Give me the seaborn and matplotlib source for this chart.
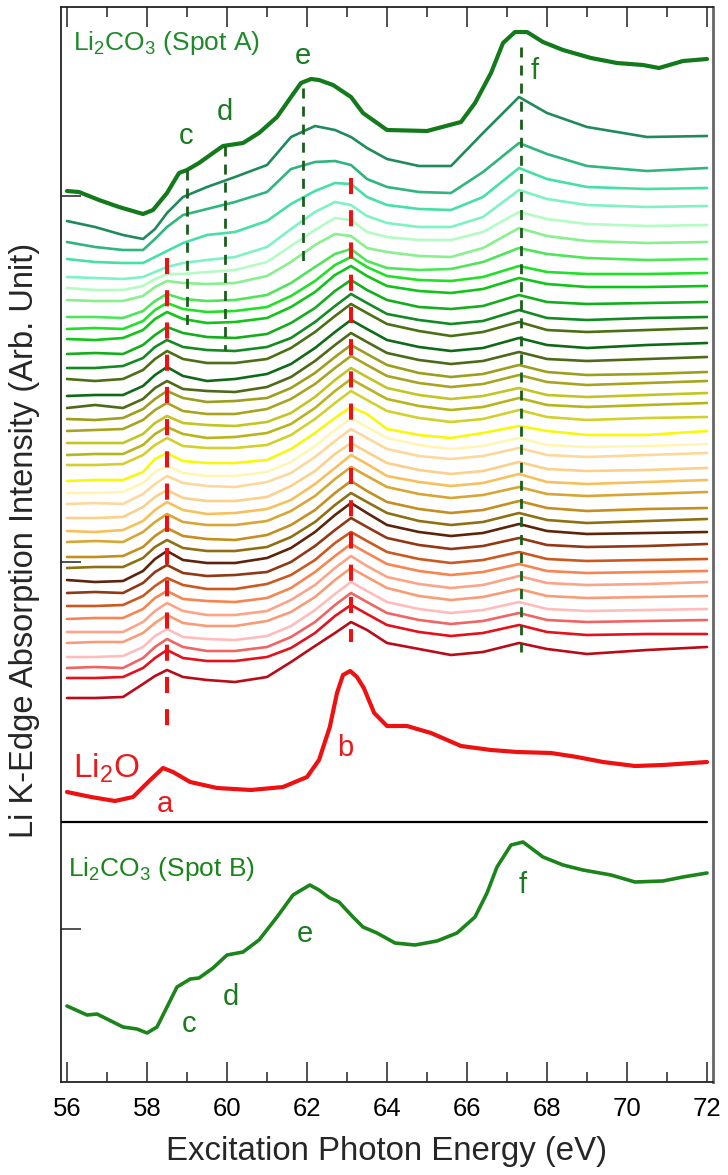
import numpy as np
import pandas as pd
import matplotlib
matplotlib.use("Agg")
import matplotlib.pyplot as plt
import seaborn as sns

# ---------------- data (arbitrary intensity units, 1 unit ~ 1 px) ----------------
# Li2CO3 Spot A (top, thick)
spotA_E = [56.0, 56.3, 56.8, 57.3, 57.9, 58.15, 58.5, 58.8, 59.0, 59.3, 59.65, 59.9, 60.4, 60.8,
           61.25, 61.6, 61.85, 62.1, 62.3, 62.65, 63.1, 63.4, 64.0, 65.0, 65.85, 66.2, 66.6, 66.9,
           67.2, 67.5, 67.9, 68.4, 69.1, 69.75, 70.4, 70.8, 71.4, 72.0]
spotA_I = [891, 890, 882, 875, 868, 872, 889, 909, 912, 919, 929, 936, 939, 949,
           965, 985, 999, 1003, 1002, 997, 985, 969, 952, 951, 960, 979, 1009, 1039,
           1050, 1050, 1040, 1032, 1024, 1019, 1017, 1014, 1021, 1023]

# Li2O reference (thick red)
li2o_E = [56.0, 56.6, 57.2, 57.65, 58.08, 58.4, 58.65, 59.08, 59.75, 60.6, 61.4, 62.0, 62.3, 62.57,
          62.75, 62.9, 63.08, 63.25, 63.42, 63.68, 64.0, 64.5, 65.1, 65.85, 66.6, 67.25, 68.1,
          68.75, 69.4, 70.2, 70.9, 72.0]
li2o_I = [290, 285, 281, 285, 302, 314, 310, 300, 294, 292, 295, 305, 322, 355,
          389, 407, 411, 405, 394, 369, 356, 356, 349, 336, 332, 330, 329,
          325, 320, 316, 317, 320]

# Li2CO3 Spot B (bottom panel)
spotB_E = [56.0, 56.5, 56.75, 57.15, 57.4, 57.75, 58.0, 58.25, 58.75, 59.08, 59.3, 59.65, 60.0,
           60.4, 60.8, 61.25, 61.65, 62.07, 62.3, 62.57, 62.8, 63.15, 63.4, 63.75, 64.2, 64.7,
           65.25, 65.75, 66.2, 66.5, 66.75, 67.1, 67.4, 67.9, 68.4, 68.9, 69.6, 70.2, 70.9, 71.4, 72.0]
spotB_I = [76, 67, 68, 60, 55, 53, 49, 55, 95, 103, 104, 114, 127,
           130, 142, 165, 187, 197, 192, 184, 180, 165, 155, 149, 139, 137,
           141, 149, 165, 189, 215, 237, 240, 225, 217, 212, 207, 200, 201, 205, 209]

# intermediate spectra: common energy grid, vertical offsets, relative spectra
stack_E = [56.0, 56.7, 57.4, 57.9, 58.2, 58.5, 58.9, 59.5, 60.2, 61.0, 61.6, 62.2,
           62.7, 63.1, 63.5, 64.0, 64.8, 65.6, 66.4, 67.3, 68.0, 69.0, 70.5, 72.0]
stack_offset = [861, 840, 823, 805, 794, 782, 765, 753, 743, 728, 714, 703, 686, 674, 663, 651,
                639, 627, 617, 601, 589, 578, 564, 551, 540, 525, 514, 502, 489, 476, 463, 450,
                439, 425, 414, 404, 384]
stack_spectra = [
    [0, -6, -14, -18, -8, 8, 24, 34, 44, 56, 84, 95, 91, 84, 73, 62, 55, 55, 88, 124, 108, 94, 84, 85],
    [0, -5, -8, -8, 3, 15, 27, 33, 40, 50, 73, 80, 81, 77, 63, 55, 50, 49, 70, 99, 88, 76, 71, 74],
    [0, -3, -4, -4, 2, 8, 16, 24, 27, 38, 55, 68, 76, 75, 62, 54, 50, 49, 62, 91, 80, 72, 70, 71],
    [0, -1, -2, 0, 5, 10, 14, 17, 20, 30, 48, 65, 75, 72, 61, 54, 50, 50, 60, 87, 78, 72, 70, 71],
    [0, -2, -2, 2, 9, 14, 14, 16, 18, 26, 42, 58, 70, 68, 56, 51, 48, 48, 56, 76, 69, 64, 62, 63],
    [0, -1, -1, 4, 13, 19, 17, 16, 17, 24, 38, 55, 66, 64, 52, 48, 44, 43, 52, 72, 64, 59, 57, 58],
    [0, 0, -1, 6, 16, 23, 18, 16, 17, 22, 34, 50, 63, 68, 56, 49, 47, 48, 55, 69, 63, 59, 57, 58],
    [0, 1, 0, 8, 19, 26, 20, 17, 18, 22, 33, 48, 64, 72, 62, 53, 49, 48, 52, 63, 57, 55, 55, 56],
    [0, -1, 1, 9, 20, 27, 20, 16, 17, 21, 32, 47, 64, 73, 63, 53, 48, 46, 50, 61, 55, 52, 52, 53],
    [0, 1, 0, 9, 19, 27, 21, 17, 16, 20, 31, 46, 63, 74, 64, 54, 47, 45, 48, 59, 52, 50, 51, 52],
    [0, 0, 2, 10, 21, 28, 21, 18, 17, 21, 30, 46, 62, 74, 65, 54, 48, 44, 47, 58, 50, 48, 50, 51],
    [0, -2, 0, 9, 20, 28, 20, 16, 16, 20, 31, 47, 63, 75, 66, 55, 48, 43, 47, 57, 49, 47, 49, 51],
    [0, 1, 1, 10, 21, 29, 20, 15, 17, 22, 32, 48, 64, 76, 67, 56, 49, 45, 48, 58, 51, 48, 51, 53],
    [0, 3, 0, 9, 20, 27, 19, 17, 16, 21, 31, 47, 63, 75, 66, 55, 48, 44, 47, 56, 49, 47, 49, 51],
    [0, -1, 1, 10, 20, 28, 21, 17, 18, 21, 31, 46, 62, 74, 65, 54, 46, 42, 45, 54, 47, 44, 45, 47],
    [0, 1, 2, 11, 21, 28, 20, 17, 17, 22, 32, 47, 63, 75, 66, 55, 48, 44, 47, 56, 49, 46, 48, 50],
    [0, 0, 0, 9, 20, 27, 20, 18, 17, 21, 30, 46, 63, 75, 66, 55, 48, 44, 47, 55, 48, 46, 48, 50],
    [0, 1, 1, 10, 21, 28, 21, 17, 18, 22, 31, 47, 64, 76, 67, 56, 49, 45, 48, 57, 50, 48, 50, 52],
    [0, 0, 1, 10, 20, 27, 19, 17, 17, 20, 30, 46, 62, 74, 65, 54, 47, 43, 46, 55, 48, 45, 47, 48],
    [0, 1, 1, 9, 22, 28, 20, 18, 18, 21, 32, 48, 63, 74, 67, 52, 46, 43, 48, 55, 50, 46, 46, 50],
    [0, 0, 1, 10, 21, 27, 20, 17, 17, 21, 31, 47, 63, 75, 66, 55, 48, 44, 47, 55, 48, 46, 47, 49],
    [0, 1, 0, 10, 20, 28, 21, 18, 17, 22, 31, 47, 63, 75, 66, 55, 48, 45, 48, 56, 49, 47, 49, 51],
    [0, 0, 1, 11, 21, 28, 20, 17, 17, 21, 32, 47, 64, 75, 66, 55, 48, 44, 47, 56, 49, 47, 48, 50],
    [0, -1, 1, 10, 21, 29, 21, 17, 18, 22, 31, 47, 63, 76, 67, 55, 49, 45, 48, 57, 49, 47, 49, 51],
    [0, 1, 0, 10, 20, 28, 20, 17, 17, 21, 31, 46, 63, 75, 66, 55, 48, 44, 47, 55, 48, 46, 48, 50],
    [0, 0, 1, 10, 21, 29, 21, 18, 17, 22, 32, 47, 64, 76, 66, 55, 48, 44, 47, 56, 49, 46, 48, 49],
    [0, 1, 1, 10, 21, 28, 20, 17, 17, 21, 31, 46, 63, 75, 66, 55, 47, 43, 46, 55, 48, 45, 47, 49],
    [0, -2, -1, 9, 21, 29, 20, 17, 17, 22, 32, 48, 65, 77, 67, 55, 48, 44, 47, 56, 49, 46, 47, 48],
    [0, 1, 0, 10, 21, 28, 20, 17, 18, 21, 31, 47, 63, 75, 66, 55, 48, 44, 47, 55, 48, 46, 47, 49],
    [0, 0, 1, 10, 20, 28, 21, 17, 17, 22, 31, 46, 63, 74, 65, 54, 47, 43, 46, 54, 47, 45, 46, 47],
    [0, 1, 1, 10, 21, 28, 20, 18, 17, 21, 31, 47, 63, 75, 66, 55, 48, 44, 47, 55, 48, 46, 47, 48],
    [0, 0, 0, 10, 21, 29, 21, 17, 17, 21, 32, 47, 64, 76, 66, 55, 48, 44, 47, 56, 49, 47, 48, 50],
    [0, 1, 1, 10, 20, 28, 20, 17, 17, 22, 31, 46, 63, 75, 66, 55, 47, 43, 46, 54, 47, 45, 46, 47],
    [0, 0, 1, 10, 21, 28, 20, 18, 17, 21, 31, 47, 63, 75, 66, 55, 48, 44, 47, 55, 48, 46, 47, 48],
    [0, 1, 0, 10, 21, 29, 21, 17, 17, 21, 31, 46, 63, 75, 66, 55, 48, 44, 47, 55, 48, 46, 47, 48],
    [0, 0, 1, 10, 20, 28, 20, 17, 17, 21, 30, 45, 62, 73, 64, 53, 46, 42, 45, 53, 46, 43, 44, 44],
    [0, 0, 1, 14, 22, 28, 21, 18, 16, 21, 36, 52, 65, 76, 68, 55, 49, 43, 46, 55, 49, 44, 48, 51],
]
stack_colors = ['#1f8b5c', '#2fb57d', '#45e0a5', '#7ef2c4', '#b4fbc4', '#88f08c', '#4fe45a',
                '#20e028', '#10c418', '#14ae1c', '#138a22', '#4c6e14', '#0f6a18', '#4e6a18',
                '#9c9e1c', '#a8a420', '#c4c424', '#b8b41c', '#d2d02c', '#f8f80c', '#fff6b4',
                '#fcd89c', '#fad08a', '#f6c05c', '#d8a636', '#c48e20', '#8e7014', '#5c240a',
                '#913814', '#cc5820', '#f88450', '#fca488', '#f89c78', '#ffbcbc', '#f06464',
                '#e4101c', '#b80c18']

# dashed guide lines: (energy, y_start, y_end)
red_guides = [(58.5, 824, 342), (63.1, 904, 440)]
green_guides = [(59.0, 912, 757), (59.95, 936, 732), (61.9, 994, 815), (67.35, 1035, 430)]

x_ticks = [56, 58, 60, 62, 64, 66, 68, 70, 72]
y_ticks = [153, 520, 886]
panel_separator = 260

# ---------------- style ----------------
sns.set_style("ticks")
plt.rcParams['font.family'] = ['Liberation Sans', 'DejaVu Sans']
plt.rcParams['mathtext.fontset'] = 'custom'
plt.rcParams['mathtext.rm'] = 'Liberation Sans'
plt.rcParams['mathtext.it'] = 'Liberation Sans:italic'
plt.rcParams['mathtext.bf'] = 'Liberation Sans:bold'

fig = plt.figure(figsize=(7.28, 11.75), dpi=100)
ax = fig.add_axes([61 / 728, 93 / 1175, 652 / 728, 1075 / 1175])

# stacked spectra
rows = []
for k, (off, spec) in enumerate(zip(stack_offset, stack_spectra)):
    for e, v in zip(stack_E, spec):
        rows.append({"E": e, "I": off + v, "curve": k})
df = pd.DataFrame(rows)
sns.lineplot(data=df, x="E", y="I", hue="curve", palette=stack_colors, hue_order=list(range(len(stack_offset))),
             legend=False, sort=False, estimator=None, lw=1.9, ax=ax)

sns.lineplot(x=spotA_E, y=spotA_I, color='#137a1b', lw=3.0, sort=False, estimator=None, ax=ax)
sns.lineplot(x=li2o_E, y=li2o_I, color='#ee1111', lw=3.0, sort=False, estimator=None, ax=ax)
sns.lineplot(x=spotB_E, y=spotB_I, color='#1b841b', lw=2.6, sort=False, estimator=None, ax=ax)

for e, y0, y1 in red_guides:
    ax.plot([e, e], [y0, y1], color='#ee1111', lw=2.9, ls=(0, (4.0, 4.0)), zorder=6)
for e, y0, y1 in green_guides:
    ax.plot([e, e], [y0, y1], color='#1a5e1a', lw=2.0, ls=(0, (3.6, 2.9)), zorder=6)

ax.plot([55.85, 72.0], [panel_separator, panel_separator], color='black', lw=1.6, zorder=7)

# text annotations
g_txt = '#1a7a1f'
ax.text(56.15, 1039, r'Li$_2$CO$_3$ (Spot A)', color='#1e8a2a', fontsize=19, ha='left', va='center')
ax.text(58.98, 946, 'c', color=g_txt, fontsize=21, ha='center', va='center')
ax.text(59.95, 970, 'd', color=g_txt, fontsize=21, ha='center', va='center')
ax.text(61.9, 1026, 'e', color=g_txt, fontsize=21, ha='center', va='center')
ax.text(67.7, 1011, 'f', color=g_txt, fontsize=21, ha='center', va='center')
ax.text(56.15, 314, r'Li$_2$O', color='#e81c1c', fontsize=24, ha='left', va='center')
ax.text(58.45, 278, 'a', color='#e81c1c', fontsize=21, ha='center', va='center')
ax.text(62.95, 334, 'b', color='#e81c1c', fontsize=21, ha='center', va='center')
ax.text(56.03, 213, r'Li$_2$CO$_3$ (Spot B)', color='#1b841b', fontsize=19, ha='left', va='center')
ax.text(59.05, 58, 'c', color=g_txt, fontsize=21, ha='center', va='center')
ax.text(60.1, 85, 'd', color=g_txt, fontsize=21, ha='center', va='center')
ax.text(61.95, 148, 'e', color=g_txt, fontsize=21, ha='center', va='center')
ax.text(67.4, 197, 'f', color=g_txt, fontsize=21, ha='center', va='center')

# axes
ax.set_xlim(55.85, 72.15)
ax.set_ylim(0, 1075)
ax.set_xticks(x_ticks)
ax.set_xticks([57, 59, 61, 63, 65, 67, 69, 71], minor=True)
ax.set_yticks(y_ticks)
ax.set_yticklabels([])
ax.tick_params(axis='x', which='major', direction='in', length=14.4, width=1.2, top=True,
               labelsize=18.5, pad=11, colors='#333333', labelcolor='black')
ax.tick_params(axis='x', which='minor', direction='in', length=7.2, width=1.2, top=True, colors='#333333')
ax.tick_params(axis='y', which='major', direction='in', length=14.4, width=1.2, left=True, right=False,
               colors='#333333')
ax.set_xlabel('Excitation Photon Energy (eV)', fontsize=23.8)
ax.set_ylabel('Li K-Edge Absorption Intensity (Arb. Unit)', fontsize=23.5)
ax.xaxis.set_label_coords(0.5, -0.05)
ax.xaxis.label.set_va('top')
ax.yaxis.set_label_coords(-0.032, 0.504)

for side in ['left', 'bottom', 'top']:
    ax.spines[side].set_color('#222222')
    ax.spines[side].set_linewidth(1.3)
ax.spines['right'].set_color('#666666')
ax.spines['right'].set_linewidth(2.0)

fig.savefig('out.png', dpi=100)
